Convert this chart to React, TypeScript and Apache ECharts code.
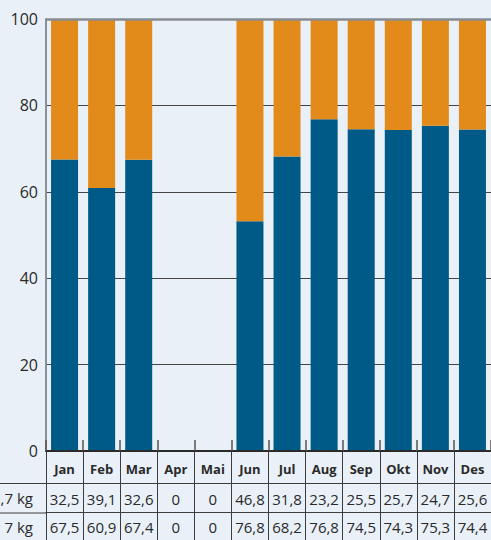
import React, { useEffect, useRef } from "react";
import * as echarts from "echarts";

const months = ["Jan", "Feb", "Mar", "Apr", "Mai", "Jun", "Jul", "Aug", "Sep", "Okt", "Nov", "Des"];
const blueValues = [67.5, 60.9, 67.4, 0, 0, 53.2, 68.2, 76.8, 74.5, 74.3, 75.3, 74.4];
const orangeValues = [32.5, 39.1, 32.6, 0, 0, 46.8, 31.8, 23.2, 25.5, 25.7, 24.7, 25.6];
const row1Labels = ["32,5", "39,1", "32,6", "0", "0", "46,8", "31,8", "23,2", "25,5", "25,7", "24,7", "25,6"];
const row2Labels = ["67,5", "60,9", "67,4", "0", "0", "76,8", "68,2", "76,8", "74,5", "74,3", "75,3", "74,4"];
const rowNames = [",7 kg", "7 kg"];
const yTicks = { min: 0, max: 100, interval: 20 };

const FONT = "'Open Sans', 'Noto Sans', sans-serif";
const BLUE = "#005a87";
const ORANGE = "#e28b1a";
const BG = "#e9f0f8";
const LINE = "#3c3c3c";

export default function App() {
  const ref = useRef<HTMLDivElement>(null);
  useEffect(() => {
    if (!ref.current) return;
    const chart = echarts.init(ref.current, null, { renderer: "svg" });
    const gridLeft = 46;
    const gridTop = 19;
    const gridHeight = 432;
    const gridWidth = 447.3;
    const baseX = {
      type: "category" as const,
      gridIndex: 0,
      position: "bottom" as const,
      boundaryGap: true,
    };
    chart.setOption({
      animation: false,
      backgroundColor: BG,
      textStyle: { fontFamily: FONT },
      grid: { left: gridLeft, top: gridTop, width: gridWidth, height: gridHeight, containLabel: false },
      xAxis: [
        {
          ...baseX,
          data: months,
          offset: 0,
          axisLine: { show: true, lineStyle: { color: "#2a2a2a", width: 2 } },
          axisTick: { show: true, inside: true, length: 11, interval: 0, lineStyle: { color: "#555", width: 1.5 } },
          axisLabel: { interval: 0, margin: 11, fontFamily: FONT, fontSize: 13, fontWeight: "bold", color: "#2a2a2a" },
          z: 5,
        },
        {
          ...baseX,
          data: months,
          offset: 0,
          axisLine: { show: false },
          axisTick: { show: true, inside: false, length: 62, interval: 0, lineStyle: { color: LINE, width: 1 } },
          axisLabel: { show: false },
        },
        {
          ...baseX,
          data: row1Labels,
          offset: 32,
          axisLine: { show: true, lineStyle: { color: LINE, width: 1 } },
          axisTick: { show: true, inside: false, length: 30, interval: 0, lineStyle: { color: LINE, width: 1 } },
          axisLabel: { interval: 0, margin: 8, fontFamily: FONT, fontSize: 15, color: "#2a2a2a" },
        },
        {
          ...baseX,
          data: row2Labels,
          offset: 61.7,
          axisLine: { show: true, lineStyle: { color: LINE, width: 1 } },
          axisTick: { show: true, inside: false, length: 30, interval: 0, lineStyle: { color: LINE, width: 1 } },
          axisLabel: { interval: 0, margin: 7, fontFamily: FONT, fontSize: 15, color: "#2a2a2a" },
        },
      ],
      yAxis: {
        type: "value",
        min: yTicks.min,
        max: yTicks.max,
        interval: yTicks.interval,
        axisLine: { show: true, lineStyle: { color: "#8a9098", width: 2 } },
        axisTick: { show: false },
        axisLabel: { margin: 8, fontFamily: FONT, fontSize: 16, color: "#2a2a2a" },
        splitLine: { show: true, lineStyle: { color: "#454545", width: 1 } },
      },
      series: [
        {
          type: "bar",
          stack: "total",
          data: blueValues,
          barWidth: 27,
          itemStyle: { color: BLUE },
          xAxisIndex: 0,
        },
        {
          type: "bar",
          stack: "total",
          data: orangeValues,
          barWidth: 27,
          itemStyle: { color: ORANGE },
          xAxisIndex: 0,
          markLine: {
            silent: true,
            symbol: "none",
            label: { show: false },
            lineStyle: { color: "#878c93", width: 2.5, type: "solid" },
            data: [{ yAxis: yTicks.max }],
          },
        },
      ],
      graphic: [
        { type: "line", shape: { x1: 0, y1: 483.5, x2: gridLeft, y2: 483.5 }, style: { stroke: LINE, lineWidth: 1 } },
        { type: "line", shape: { x1: 0, y1: 513, x2: gridLeft, y2: 513 }, style: { stroke: LINE, lineWidth: 1 } },
        {
          type: "text",
          x: 33,
          y: 498,
          style: { text: rowNames[0], textAlign: "right", textVerticalAlign: "middle", fontFamily: FONT, fontSize: 15, fill: "#2a2a2a" },
        },
        {
          type: "text",
          x: 33,
          y: 527,
          style: { text: rowNames[1], textAlign: "right", textVerticalAlign: "middle", fontFamily: FONT, fontSize: 15, fill: "#2a2a2a" },
        },
      ],
    });
    return () => chart.dispose();
  }, []);
  return <div ref={ref} style={{ position: "fixed", left: 0, top: 0, width: 491, height: 540 }} />;
}
